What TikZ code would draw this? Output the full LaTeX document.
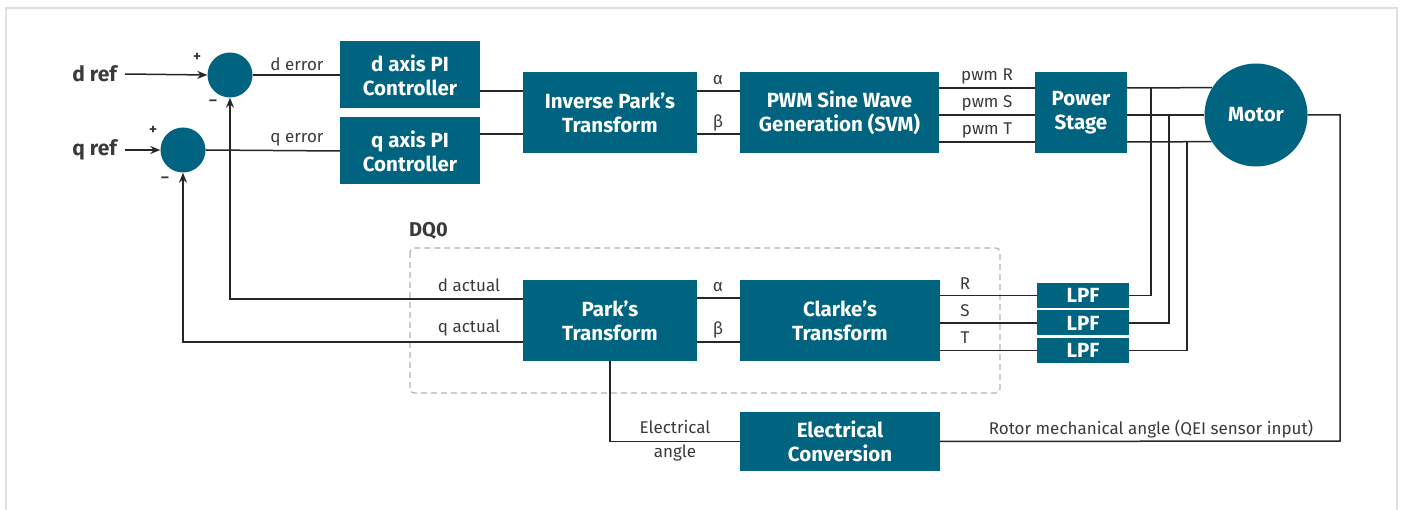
\documentclass[tikz,border=0pt]{standalone}
\usepackage{fontspec}
\setmainfont{Fira Sans}
\usetikzlibrary{arrows.meta,calc}
\definecolor{teal}{HTML}{00637F}
\definecolor{ink}{HTML}{3A3A3A}
\definecolor{wire}{HTML}{262626}

\begin{document}
\begin{tikzpicture}[x=1pt, y=-1pt, >={Stealth[length=10pt,width=8pt]},
        blk/.style={fill=teal, text=white, font=\bfseries\fontsize{20.5}{24}\selectfont, align=center, inner sep=0pt},
        sum/.style={circle, fill=teal, minimum size=45pt, inner sep=0pt},
        lbl/.style={text=ink, font=\fontsize{17}{24}\selectfont, inner sep=0pt},
        sgn/.style={text=ink, font=\bfseries\fontsize{15}{15}\selectfont, inner sep=0pt},
        ln/.style={draw=wire, line width=1.5pt}]
        \useasboundingbox (0,0) rectangle (1403,510);
        \draw[line width=2pt, draw=black!12] (6,510) -- (6,8) -- (1397,8) -- (1397,510);

        \node[sum] (sumd) at (230,75) {};
        \node[sum] (sumq) at (183,150) {};
        \node[lbl, anchor=east, font=\bfseries\fontsize{21}{21}\selectfont] (dref) at (117,74) {d ref};
        \node[lbl, anchor=east, font=\bfseries\fontsize{21}{21}\selectfont] (qref) at (117,150) {q ref};
        \node[sgn] (pd) at (197,57) {+};
        \node[sgn] (md) at (213,103) {--};
        \node[sgn] (pq) at (153,130) {+};
        \node[sgn] (mq) at (165,180) {--};

        \node[blk, minimum width=140pt, minimum height=67pt] (dpi) at (410,75) {d axis PI\\Controller};
        \node[blk, minimum width=140pt, minimum height=67pt] (qpi) at (410,151) {q axis PI\\Controller};
        \node[blk, minimum width=174pt, minimum height=81pt] (ipark) at (610,112.5) {Inverse Park’s\\Transform};
        \node[blk, minimum width=199pt, minimum height=81pt] (pwm) at (839.5,112.5) {PWM Sine Wave\\Generation (SVM)};
        \node[blk, minimum width=92pt, minimum height=81pt] (power) at (1081,112.5) {Power\\Stage};
        \node[blk, circle, minimum size=103pt] (motor) at (1256,115) {Motor};

        \node[blk, minimum width=174pt, minimum height=81pt] (park) at (610,320.5) {Park’s\\Transform};
        \node[blk, minimum width=200pt, minimum height=81pt] (clarke) at (840,320.5) {Clarke’s\\Transform};
        \node[blk, minimum width=92pt, minimum height=25pt] (lpfr) at (1083,295.5) {LPF};
        \node[blk, minimum width=92pt, minimum height=25pt] (lpfs) at (1083,323) {LPF};
        \node[blk, minimum width=92pt, minimum height=25pt] (lpft) at (1083,350.5) {LPF};
        \node[blk, minimum width=200pt, minimum height=59pt] (elec) at (840,441.5) {Electrical\\Conversion};

        \draw[dashed, draw=black!30, line width=1.2pt, dash pattern=on 6pt off 4pt, rounded corners=4pt] (410,248) rectangle (1000,393);
        \node[lbl, anchor=west, font=\bfseries\fontsize{20}{20}\selectfont] (dqo) at (409,231) {DQ0};

        % references and errors
        \draw[ln, ->] (dref.east) ++(8,0) -- (sumd.west);
        \draw[ln, ->] (qref.east) ++(8,0) -- (sumq.west);
        \draw[ln] (sumd.east) -- (dpi.west);
        \draw[ln] (sumq.east) -- (qpi.west);
        \node[lbl] (derr) at (297,64) {d error};
        \node[lbl] (qerr) at (297,140) {q error};

        \draw[ln] (dpi.east |- 0,91) -- (ipark.west |- 0,91);
        \draw[ln] (qpi.east |- 0,134) -- (ipark.west |- 0,134);
        \draw[ln] (ipark.east |- 0,91) -- (pwm.west |- 0,91);
        \draw[ln] (ipark.east |- 0,134) -- (pwm.west |- 0,134);
        \node[lbl] (alpha1) at (718,80) {α};
        \node[lbl] (beta1) at (718,123) {β};

        \draw[ln] (pwm.east |- 0,88) -- (power.west |- 0,88);
        \draw[ln] (pwm.east |- 0,115) -- (power.west |- 0,115);
        \draw[ln] (pwm.east |- 0,142) -- (power.west |- 0,142);
        \node[lbl] (pwmr) at (987,76) {pwm R};
        \node[lbl] (pwms) at (987,103) {pwm S};
        \node[lbl] (pwmt) at (987,130) {pwm T};

        \draw[ln] (power.east |- 0,88) -- (motor.148.4);
        \draw[ln] (power.east |- 0,115) -- (motor.west);
        \draw[ln] (power.east |- 0,142) -- (motor.211.6);

        % feedback from the motor phases
        \coordinate (tapr) at (1151,88);
        \coordinate (taps) at (1169,115);
        \coordinate (tapt) at (1187,142);
        \draw[ln] (lpfr.east) -| (tapr);
        \draw[ln] (lpfs.east) -| (taps);
        \draw[ln] (lpft.east) -| (tapt);

        \draw[ln] (clarke.east |- lpfr) -- (lpfr.west);
        \draw[ln] (clarke.east |- lpfs) -- (lpfs.west);
        \draw[ln] (clarke.east |- lpft) -- (lpft.west);
        \node[lbl] (phr) at (965,284) {R};
        \node[lbl] (phs) at (965,311) {S};
        \node[lbl] (pht) at (965,338) {T};

        \draw[ln] (park.east |- 0,298) -- (clarke.west |- 0,298);
        \draw[ln] (park.east |- 0,342) -- (clarke.west |- 0,342);
        \node[lbl] (alpha2) at (718,287) {α};
        \node[lbl] (beta2) at (718,330) {β};

        \draw[ln, ->] (park.west |- 0,299) -| (sumd.south);
        \draw[ln, ->] (park.west |- 0,342) -| (sumq.south);
        \node[lbl] (dact) at (469,285) {d actual};
        \node[lbl] (qact) at (469,328) {q actual};

        % rotor angle
        \coordinate (qei) at (1340,441);
        \draw[ln] (motor.east) -| (qei) -- (elec.east);
        \node[lbl] (rotor) at (1151,429) {Rotor mechanical angle (QEI sensor input)};
        \draw[ln] (elec.west) -| (park.south);
        \node[lbl, align=center] (eang) at (675,441) {Electrical\\angle};
\end{tikzpicture}
\end{document}
